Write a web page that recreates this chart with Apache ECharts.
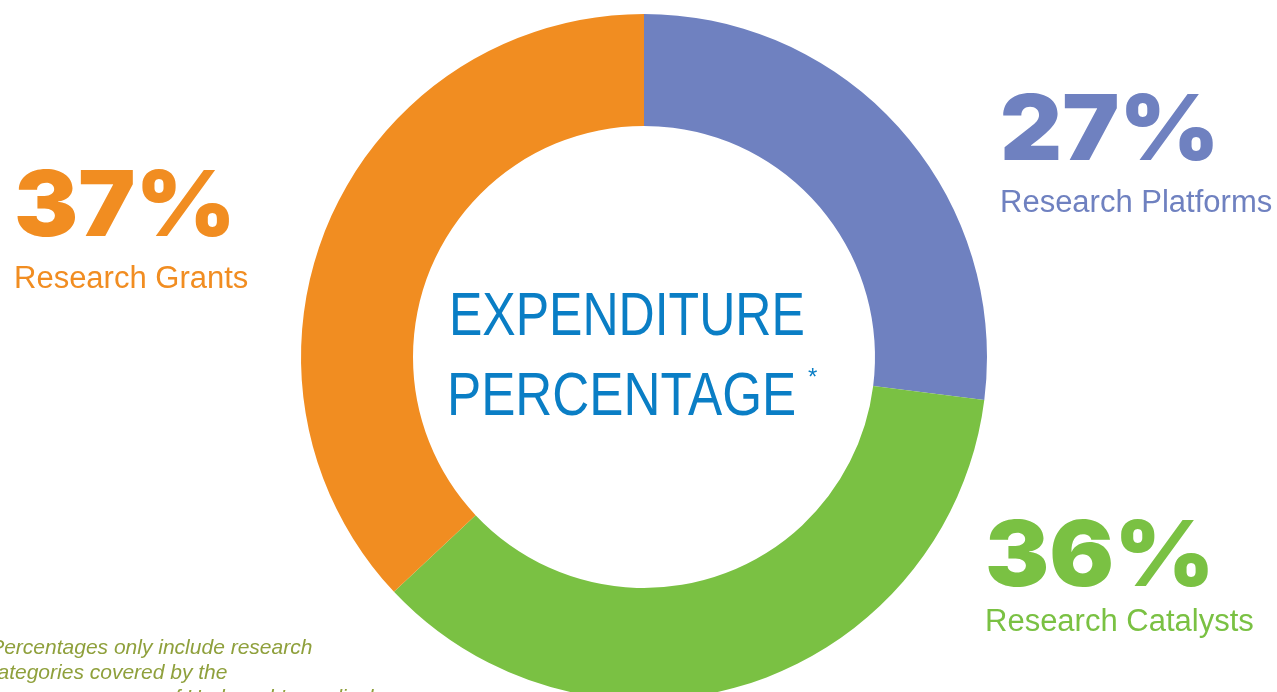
<!DOCTYPE html>
<html>
<head>
<meta charset="utf-8">
<script src="https://cdn.jsdelivr.net/npm/echarts@6/dist/echarts.min.js"></script>
<style>
    html,body{margin:0;padding:0;background:#fff;}
    #donut{width:1277px;height:692px;}
</style>
</head>
<body>
<div id="donut"></div>
<script>
    // slices, clockwise from 12 o'clock
    var categories = ['Research Platforms', 'Research Catalysts', 'Research Grants'];
    var values = [27, 36, 37];
    var colors = ['#6F81C0', '#7AC143', '#F18D21'];

    var centerLines = ['EXPENDITURE', 'PERCENTAGE'];
    var footnoteLines = [
        '*Percentages only include research',
        'categories covered by the',
        'program expenses of Hadassah\'s medical'
    ];

    // where each slice's big label sits: [left, y of big number, y of name]
    var labelPos = [
        [1000, 133, 203],
        [985, 559, 622],
        [14, 209, 279]
    ];

    var myChart = echarts.init(document.getElementById('donut'));

    var pieData = [];
    for (var i = 0; i < categories.length; i++) {
        pieData.push({name: categories[i], value: values[i], itemStyle: {color: colors[i]}});
    }

    var graphics = [];
    for (var i = 0; i < categories.length; i++) {
        graphics.push({
            type: 'text', silent: true, scaleX: 1.08, scaleY: 1.02,
            style: {
                text: values[i] + '%', fill: colors[i],
                font: '900 89px Inter, "DejaVu Sans", sans-serif',
                verticalAlign: 'middle'
            },
            position: [labelPos[i][0], labelPos[i][1]]
        });
        graphics.push({
            type: 'text', silent: true,
            style: {
                text: categories[i], fill: colors[i],
                font: '31px "Liberation Sans", Arial, sans-serif',
                verticalAlign: 'middle'
            },
            position: [labelPos[i][0], labelPos[i][2]]
        });
    }
    // center title, narrowed like a condensed face
    graphics.push({
        type: 'text', silent: true, scaleX: 0.82,
        style: {text: centerLines[0], fill: '#0A7EC5', font: '61px "Liberation Sans", sans-serif', verticalAlign: 'middle'},
        position: [449, 318]
    });
    graphics.push({
        type: 'text', silent: true, scaleX: 0.84,
        style: {text: centerLines[1], fill: '#0A7EC5', font: '61px "Liberation Sans", sans-serif', verticalAlign: 'middle'},
        position: [447, 398]
    });
    graphics.push({
        type: 'text', silent: true,
        style: {text: '*', fill: '#0A7EC5', font: '24px "Liberation Sans", sans-serif', verticalAlign: 'middle'},
        position: [808, 378]
    });
    // footnote, runs off the left and bottom edges
    var footLeft = [-18, -13, -17];
    for (var j = 0; j < footnoteLines.length; j++) {
        graphics.push({
            type: 'text', silent: true,
            style: {text: footnoteLines[j], fill: '#8FA03C', font: 'italic 21px "Liberation Sans", Arial, sans-serif', verticalAlign: 'middle'},
            position: [footLeft[j], 648 + j * 25]
        });
    }

    var option = {
        animation: false,
        series: [{
            type: 'pie',
            center: [644, 357],
            radius: [231, 343],
            startAngle: 90,
            clockwise: true,
            silent: true,
            label: {show: false},
            labelLine: {show: false},
            itemStyle: {borderWidth: 0},
            data: pieData
        }],
        graphic: graphics
    };
    myChart.setOption(option, true);
</script>
</body>
</html>
